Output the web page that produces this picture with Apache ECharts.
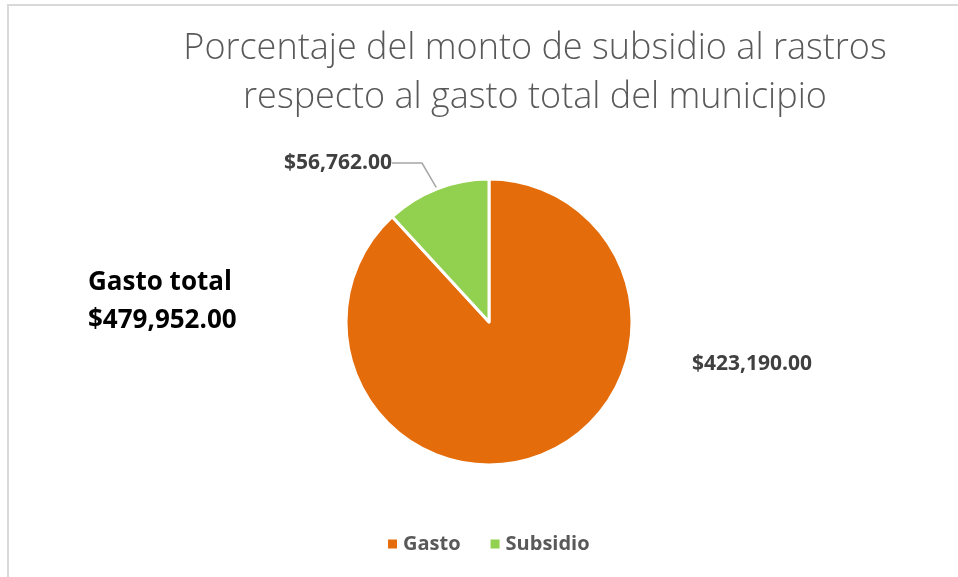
<!DOCTYPE html>
<html>
<head>
<meta charset="utf-8">
<script src="https://cdn.jsdelivr.net/npm/echarts@6/dist/echarts.min.js"></script>
<style>
  html, body { margin: 0; padding: 0; background: #fff; }
  #chart { width: 958px; height: 577px; }
</style>
</head>
<body>
<div id="chart"></div>
<script>
var categories = ["Gasto", "Subsidio"];
var values = [423190.0, 56762.0];
var totalLabel = ["Gasto total", "$479,952.00"];
var colors = ["#e46c0a", "#92d050"];

function money(v) {
  return "$" + v.toLocaleString("en-US", { minimumFractionDigits: 2, maximumFractionDigits: 2 });
}

var dom = document.getElementById("chart");
var chart = echarts.init(dom);

var option = {
  animation: false,
  color: colors,
  title: {
    text: "Porcentaje del monto de subsidio al rastros\nrespecto al gasto total del municipio",
    left: 530,
    top: 19,
    textAlign: "center",
    textStyle: {
      color: "#595959",
      fontFamily: "Open Sans",
      fontWeight: 300,
      fontSize: 36,
      lineHeight: 49
    }
  },
  legend: {
    bottom: 18,
    left: 381,
    itemWidth: 11,
    itemHeight: 11,
    itemGap: 28,
    icon: "rect",
    textStyle: {
      color: "#595959",
      fontFamily: "Open Sans",
      fontWeight: "bold",
      fontSize: 20
    },
    data: categories
  },
  graphic: [
    {
      type: "rect",
      shape: { x: 8, y: 5, width: 960, height: 580 },
      style: { fill: "none", stroke: "#d9d9d9", lineWidth: 2 }
    },
    {
      type: "text",
      left: 88,
      top: 264,
      style: {
        text: totalLabel.join("\n"),
        fill: "#000",
        fontFamily: "Open Sans",
        fontWeight: "bold",
        fontSize: 26,
        lineHeight: 38,
        align: "center"
      }
    }
  ],
  series: [
    {
      name: "Monto",
      type: "pie",
      center: [489, 322],
      radius: 143,
      startAngle: 90,
      clockwise: true,
      itemStyle: { borderColor: "#fff", borderWidth: 3 },
      label: {
        show: true,
        position: "outside",
        formatter: function (p) { return money(p.value); },
        color: "#404040",
        fontFamily: "Open Sans",
        fontWeight: "bold",
        fontSize: 21
      },
      labelLine: {
        show: true,
        length: 10,
        length2: 30,
        lineStyle: { color: "#a6a6a6", width: 1.5 }
      },
      labelLayout: function (p) {
        if (p.dataIndex === 0) {
          return { x: 752, y: 364, align: "center", verticalAlign: "middle" };
        }
        return { x: 338, y: 163, align: "center", verticalAlign: "middle" };
      },
      data: categories.map(function (c, i) {
        return {
          name: c,
          value: values[i],
          labelLine: { show: i === 1 }
        };
      })
    }
  ]
};
chart.setOption(option);
window.onresize = function () { chart.resize(); };
</script>
</body>
</html>
